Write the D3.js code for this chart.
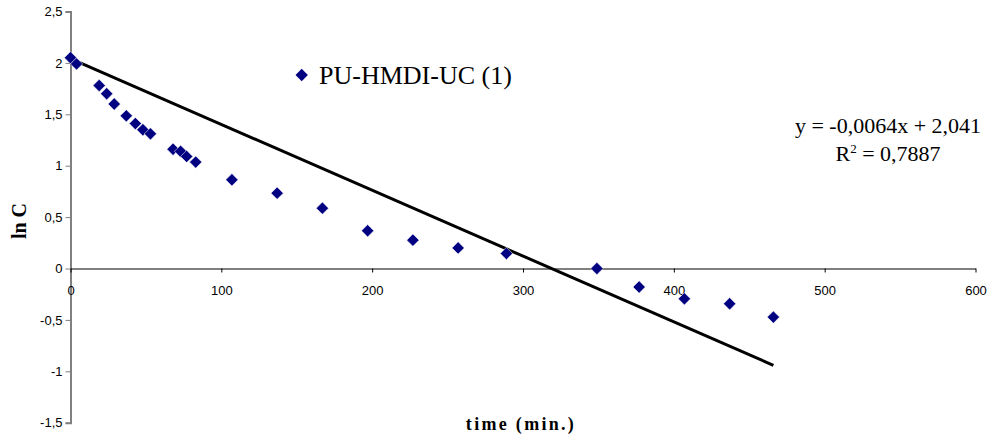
<!DOCTYPE html>
<html><head><meta charset="utf-8">
<script src="https://cdn.jsdelivr.net/npm/d3@7"></script>
<style>html,body{margin:0;padding:0;background:#fff;}</style>
</head><body>
<svg id="chart" width="992" height="440"></svg>
<script>
const timeValues = [0, 4, 19, 24, 29, 37, 43, 48, 53, 68, 73, 77, 83, 107, 137, 167, 197, 227, 257, 289, 349, 377, 407, 437, 466];
const lnCValues = [2.05, 1.99, 1.78, 1.70, 1.60, 1.485, 1.41, 1.35, 1.31, 1.16, 1.14, 1.09, 1.035, 0.863, 0.733, 0.587, 0.367, 0.276, 0.20, 0.146, 0.0, -0.18, -0.295, -0.343, -0.473];
const xTicks = [0, 100, 200, 300, 400, 500, 600];
const yTicks = [-1.5, -1, -0.5, 0, 0.5, 1, 1.5, 2, 2.5];
const trendSlope = -0.0064;
const trendIntercept = 2.041;
const seriesName = "PU-HMDI-UC (1)";
const eqLine1 = "y = -0,0064x + 2,041";

const svg = d3.select("#chart");
const x = d3.scaleLinear().domain([0, 600]).range([70.5, 975.5]);
const y = d3.scaleLinear().domain([-1.5, 2.5]).range([422.7, 11.5]);
const fmt = v => String(v).replace(".", ",");

// y axis
const yAxis = d3.axisLeft(y).tickValues(yTicks).tickFormat(fmt).tickSize(5).tickPadding(3);
const gy = svg.append("g").attr("transform", `translate(${x(0)},0)`).call(yAxis);
gy.select(".domain").attr("stroke", "#808080").attr("stroke-width", 2);
gy.selectAll(".tick line").attr("stroke", "#808080").attr("stroke-width", 1);
gy.selectAll(".tick text").attr("font-family", "Liberation Sans, Arial, sans-serif").attr("font-size", 13).attr("fill", "#000");

// x axis at y=0
const xAxis = d3.axisBottom(x).tickValues(xTicks).tickFormat(fmt).tickSizeInner(4).tickSizeOuter(0).tickPadding(13);
const gx = svg.append("g").attr("transform", `translate(0,${y(0)})`).call(xAxis);
gx.select(".domain").attr("stroke", "#000").attr("stroke-width", 1.2);
gx.selectAll(".tick line").attr("stroke", "#000");
gx.selectAll(".tick text").attr("font-family", "Liberation Sans, Arial, sans-serif").attr("font-size", 13).attr("fill", "#000");

// trend line
const tMax = d3.max(timeValues);
svg.append("line")
  .attr("x1", x(0)).attr("y1", y(trendIntercept))
  .attr("x2", x(tMax)).attr("y2", y(trendIntercept + trendSlope * tMax))
  .attr("stroke", "#000").attr("stroke-width", 3);

// points
const diamond = d3.symbol().type(d3.symbolSquare).size(76);
svg.append("g").selectAll("path").data(timeValues.map((t, i) => [t, lnCValues[i]])).join("path")
  .attr("d", diamond)
  .attr("transform", d => `translate(${x(d[0])},${y(d[1])}) rotate(45)`)
  .attr("fill", "#000080").attr("stroke", "#fff").attr("stroke-width", 0.5);

// legend
svg.append("path").attr("d", diamond).attr("transform", "translate(301.7,75) rotate(45)").attr("fill", "#000080");
svg.append("text").attr("x", 319).attr("y", 84).attr("font-family", "Liberation Serif, Times New Roman, serif")
  .attr("font-size", 26).text(seriesName);

// equation
const eq = svg.append("text").attr("font-family", "Liberation Serif, Times New Roman, serif").attr("font-size", 22).attr("text-anchor", "middle");
eq.append("tspan").attr("x", 888).attr("y", 133).text(eqLine1);
const l2 = eq.append("tspan").attr("x", 888).attr("y", 161);
l2.append("tspan").text("R");
l2.append("tspan").attr("font-size", 13).attr("dy", -8).text("2");
l2.append("tspan").attr("dy", 8).text(" = 0,7887");

// axis titles
svg.append("text").attr("transform", "translate(26,221) rotate(-90)").attr("text-anchor", "middle")
  .attr("font-family", "Liberation Serif, Times New Roman, serif").attr("font-weight", "bold").attr("font-size", 20).text("ln C");
svg.append("text").attr("x", 521).attr("y", 430).attr("text-anchor", "middle")
  .attr("font-family", "Liberation Serif, Times New Roman, serif").attr("font-weight", "bold").attr("font-size", 18)
  .attr("letter-spacing", 2.3).text("time (min.)");
</script>
</body></html>
